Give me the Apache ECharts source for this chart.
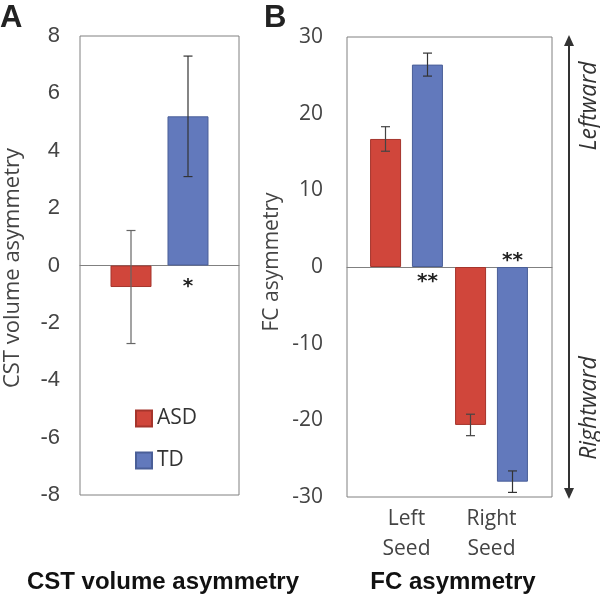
<!DOCTYPE html>
<html>
<head>
<meta charset="utf-8">
<script src="https://cdn.jsdelivr.net/npm/echarts@6/dist/echarts.min.js"></script>
<style>
  html, body { margin: 0; padding: 0; background: #fff; }
  #main { width: 600px; height: 596px; }
</style>
</head>
<body>
<div id="main"></div>
<script>
// panel A: CST volume asymmetry (one group)
var categoriesA = ['CST'];
var asdA = [-0.75];
var tdA = [5.2];
var asdAErr = [1.97];
var tdAErr = [2.1];

// panel B: FC asymmetry by seed
var categoriesB = ['Left\nSeed', 'Right\nSeed'];
var asdB = [16.7, -20.6];
var tdB = [26.4, -28.0];
var asdBErr = [1.6, 1.4];
var tdBErr = [1.5, 1.4];

// significance marks: category index, which bar, text, above/below zero
var starsA = [[0, 'TD', '*', 'below']];
var starsB = [[0, 'TD', '**', 'below'], [1, 'TD', '**', 'above']];

var RED = '#d0463b';
var BLUE = '#6279bc';
var GRID_LINE = '#808080';

var chart = echarts.init(document.getElementById('main'));

// pixel offsets of the two bars inside a category
var offA = {ASD: -28.5, TD: 28.5};
var offB = {ASD: -21, TD: 21};

function errorBars(means, errs, offset, xi, yi, color) {
    return {
        type: 'custom',
        xAxisIndex: xi,
        yAxisIndex: yi,
        silent: true,
        z: 10,
        data: means.map(function (m, i) { return [i, m, errs[i]]; }),
        renderItem: function (params, api) {
            var x = api.coord([api.value(0), 0])[0] + offset;
            var hi = api.coord([api.value(0), api.value(1) + api.value(2)])[1];
            var lo = api.coord([api.value(0), api.value(1) - api.value(2)])[1];
            var w = 4.5;
            var st = {stroke: color, lineWidth: 1.2};
            return {
                type: 'group',
                children: [
                    {type: 'line', shape: {x1: x, y1: hi, x2: x, y2: lo}, style: st},
                    {type: 'line', shape: {x1: x - w, y1: hi, x2: x + w, y2: hi}, style: st},
                    {type: 'line', shape: {x1: x - w, y1: lo, x2: x + w, y2: lo}, style: st}
                ]
            };
        }
    };
}

function starMarks(stars, offs, xi, yi, below, above) {
    return {
        type: 'custom',
        xAxisIndex: xi,
        yAxisIndex: yi,
        silent: true,
        z: 10,
        data: stars.map(function (s) { return [s[0], 0]; }),
        renderItem: function (params, api) {
            var s = stars[params.dataIndex];
            var p = api.coord([api.value(0), 0]);
            return {
                type: 'text',
                style: {
                    x: p[0] + offs[s[1]],
                    y: p[1] + (s[3] === 'below' ? below : above),
                    text: s[2],
                    fill: '#222',
                    font: 'bold 20px "DejaVu Sans"',
                    textAlign: 'center',
                    textVerticalAlign: 'middle'
                }
            };
        }
    };
}

var option = {
    animation: false,
    backgroundColor: '#fff',
    legend: {
        data: ['ASD', 'TD'],
        orient: 'vertical',
        left: 130,
        top: 403,
        itemWidth: 16,
        itemHeight: 16,
        itemGap: 21,
        icon: 'rect',
        textStyle: {fontFamily: 'Open Sans', fontSize: 21, lineHeight: 16, color: '#333'}
    },
    grid: [
        {left: 80, top: 36, width: 159, height: 459, show: true, borderColor: GRID_LINE, borderWidth: 1},
        {left: 347, top: 37, width: 205, height: 460, show: true, borderColor: GRID_LINE, borderWidth: 1},
        {left: 364, top: 37, width: 170, height: 460}
    ],
    xAxis: [
        {gridIndex: 0, type: 'category', data: categoriesA,
         axisLine: {onZero: true, lineStyle: {color: GRID_LINE}}, axisTick: {show: false}, axisLabel: {show: false}},
        {gridIndex: 1, type: 'category', data: categoriesB,
         axisLine: {onZero: true, lineStyle: {color: GRID_LINE}}, axisTick: {show: false}, axisLabel: {show: false}},
        {gridIndex: 2, type: 'category', data: categoriesB,
         axisLine: {show: false, onZero: false}, axisTick: {show: false},
         axisLabel: {margin: 7, fontFamily: 'Open Sans', fontSize: 21, color: '#444', lineHeight: 30}}
    ],
    yAxis: [
        {gridIndex: 0, type: 'value', min: -8, max: 8, interval: 2,
         axisLine: {show: false}, axisTick: {show: false}, splitLine: {show: false},
         axisLabel: {margin: 20, fontFamily: 'Liberation Sans', fontSize: 22, color: '#444'}},
        {gridIndex: 1, type: 'value', min: -30, max: 30, interval: 10,
         axisLine: {show: false}, axisTick: {show: false}, splitLine: {show: false},
         axisLabel: {margin: 24, fontFamily: 'Open Sans', fontSize: 21, color: '#444'}},
        {gridIndex: 2, type: 'value', min: -30, max: 30, interval: 10, show: false}
    ],
    series: [
        {name: 'ASD', type: 'bar', xAxisIndex: 0, yAxisIndex: 0, data: asdA, barWidth: 41, barGap: '39%',
         itemStyle: {color: RED, borderColor: '#a5352c', borderWidth: 1}},
        {name: 'TD', type: 'bar', xAxisIndex: 0, yAxisIndex: 0, data: tdA, barWidth: 41, barGap: '39%',
         itemStyle: {color: BLUE, borderColor: '#4a5f98', borderWidth: 1}},
        {name: 'ASD', type: 'bar', xAxisIndex: 2, yAxisIndex: 2, data: asdB, barWidth: 31, barGap: '35%',
         itemStyle: {color: RED, borderColor: '#a5352c', borderWidth: 1}},
        {name: 'TD', type: 'bar', xAxisIndex: 2, yAxisIndex: 2, data: tdB, barWidth: 31, barGap: '35%',
         itemStyle: {color: BLUE, borderColor: '#4a5f98', borderWidth: 1}},
        errorBars(asdA, asdAErr, offA.ASD, 0, 0, '#666'),
        errorBars(tdA, tdAErr, offA.TD, 0, 0, '#333'),
        errorBars(asdB, asdBErr, offB.ASD, 2, 2, '#444'),
        errorBars(tdB, tdBErr, offB.TD, 2, 2, '#333'),
        starMarks(starsA, offA, 0, 0, 21, -12),
        starMarks(starsB, offB, 2, 2, 15, -6)
    ],
    graphic: [
        {type: 'text', left: 0, top: 3, style: {text: 'A', font: 'bold 31px "Liberation Sans"', fill: '#222'}},
        {type: 'text', left: 264, top: 3, style: {text: 'B', font: 'bold 31px "Liberation Sans"', fill: '#222'}},
        {type: 'text', x: 13, y: 268, rotation: Math.PI / 2,
         style: {text: 'CST volume asymmetry', font: '22px "Open Sans"', fill: '#444', textAlign: 'center', textVerticalAlign: 'middle'}},
        {type: 'text', x: 272, y: 262, rotation: Math.PI / 2,
         style: {text: 'FC asymmetry', font: '21px "Open Sans"', fill: '#444', textAlign: 'center', textVerticalAlign: 'middle'}},
        {type: 'text', x: 163, y: 582,
         style: {text: 'CST volume asymmetry', font: 'bold 24px "Liberation Sans"', fill: '#111', textAlign: 'center', textVerticalAlign: 'middle'}},
        {type: 'text', x: 453, y: 582,
         style: {text: 'FC asymmetry', font: 'bold 24px "Liberation Sans"', fill: '#111', textAlign: 'center', textVerticalAlign: 'middle'}},
        // double-headed arrow on the right of panel B
        {type: 'line', shape: {x1: 569, y1: 44, x2: 569, y2: 490}, style: {stroke: '#333', lineWidth: 2}},
        {type: 'polygon', shape: {points: [[569, 35], [564, 46], [574, 46]]}, style: {fill: '#333'}},
        {type: 'polygon', shape: {points: [[569, 499], [564, 488], [574, 488]]}, style: {fill: '#333'}},
        {type: 'text', x: 589, y: 106, rotation: Math.PI / 2,
         style: {text: 'Leftward', font: 'italic 23px "Open Sans"', fill: '#333', textAlign: 'center', textVerticalAlign: 'middle'}},
        {type: 'text', x: 589, y: 408, rotation: Math.PI / 2,
         style: {text: 'Rightward', font: 'italic 23px "Open Sans"', fill: '#333', textAlign: 'center', textVerticalAlign: 'middle'}}
    ]
};

chart.setOption(option);
</script>
</body>
</html>
